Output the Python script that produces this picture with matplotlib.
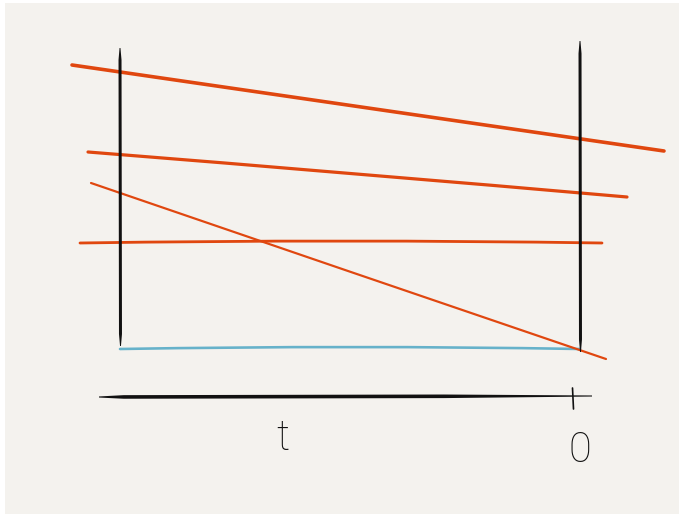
import numpy as np
import matplotlib.pyplot as plt
from matplotlib.path import Path
from matplotlib.patches import PathPatch, Rectangle

# sketch of price paths between time t and 0 (units: drawing canvas)
orange_x0 = [72, 88, 91, 80]
orange_y0 = [65, 152, 183, 243]
orange_xm = [368, 358, 348, 341]
orange_ym = [108, 174, 271, 241]
orange_x1 = [664, 627, 606, 602]
orange_y1 = [151, 197, 359, 243]
orange_w = [3.6, 3.2, 2.2, 2.8]

blue_x = [120, 350, 580]
blue_y = [349, 347, 349]

vert_x = [120, 580]
vert_top = [48, 41]
vert_bot = [346, 352]

axis_x = [99, 592]
axis_y = [397, 396]

tick_labels = ["t", "0"]
tick_x = [283, 580]
tick_y = [439, 451]

ORANGE = "#e0470f"
BLUE = "#66b2ca"
INK = "#111111"
PAPER = "#f4f2ee"

fig = plt.figure(figsize=(6.79, 5.14), dpi=100, facecolor="white")
ax = fig.add_axes([0, 0, 1, 1])
ax.set_xlim(0, 679)
ax.set_ylim(514, 0)
ax.axis("off")
ax.add_patch(Rectangle((5, 3), 674, 511, facecolor=PAPER, edgecolor="none", zorder=0))


def stroke(x0, y0, x1, y1, w, color, taper=0.15, tail=None):
    # pen stroke: full width in the middle, thinning towards the ends
    if tail is None:
        tail = taper
    s = np.linspace(0, 1, 200)
    prof = np.minimum(1, np.minimum(s / taper, (1 - s) / tail)) * 0.7 + 0.3
    dx, dy = x1 - x0, y1 - y0
    n = np.hypot(dx, dy)
    nx, ny = -dy / n, dx / n
    px = x0 + dx * s
    py = y0 + dy * s
    hw = w / 2 * prof
    xs = np.concatenate([px + nx * hw, (px - nx * hw)[::-1]])
    ys = np.concatenate([py + ny * hw, (py - ny * hw)[::-1]])
    ax.fill(xs, ys, color=color, lw=0, zorder=3)


def curve(x, y, w, color):
    verts = [(x[0], y[0]), (2 * x[1] - (x[0] + x[2]) / 2, 2 * y[1] - (y[0] + y[2]) / 2), (x[2], y[2])]
    path = Path(verts, [Path.MOVETO, Path.CURVE3, Path.CURVE3])
    ax.add_patch(PathPatch(path, facecolor="none", edgecolor=color, lw=w * 0.72,
                           capstyle="round", zorder=2))


# vertical bars at t and 0
for x, t, b in zip(vert_x, vert_top, vert_bot):
    stroke(x, t, x + 0.5, b, 3.0, INK, taper=0.04)

# time axis
stroke(axis_x[0], axis_y[0], axis_x[1], axis_y[1], 3.6, INK, taper=0.05, tail=0.3)
ax.plot([572.5, 573.5], [388, 409], color=INK, lw=1.2, solid_capstyle="round", zorder=3)

# blue baseline
curve(blue_x, blue_y, 2.6, BLUE)

# orange paths
for i in range(len(orange_x0)):
    curve([orange_x0[i], orange_xm[i], orange_x1[i]],
          [orange_y0[i], orange_ym[i], orange_y1[i]], orange_w[i], ORANGE)

for lab, x, y in zip(tick_labels, tick_x, tick_y):
    ax.text(x, y, lab, ha="center", va="center", fontsize=30, color=INK,
            family=["Roboto", "DejaVu Sans"], fontweight="light")

fig.savefig("out.png", dpi=100, facecolor="white")
